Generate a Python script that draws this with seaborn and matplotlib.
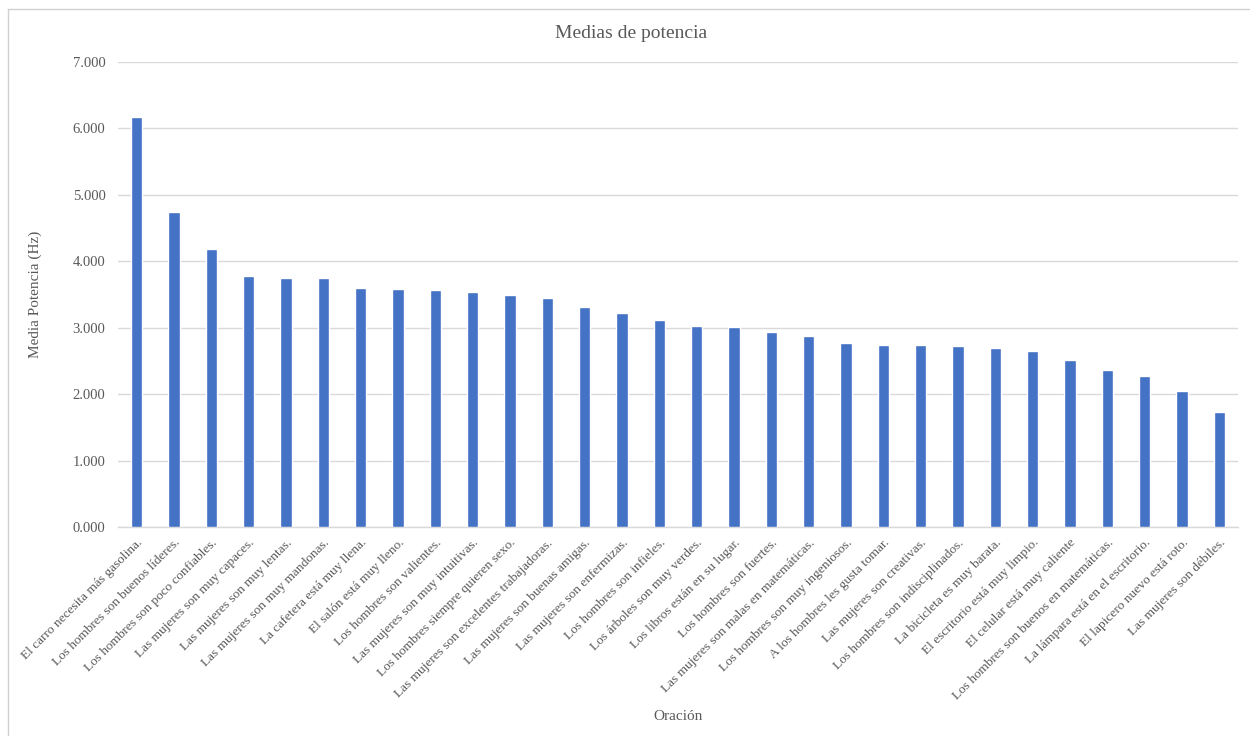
import matplotlib
matplotlib.use("Agg")
import matplotlib.pyplot as plt
import seaborn as sns
import pandas as pd
from matplotlib.lines import Line2D
from matplotlib.ticker import FuncFormatter

oraciones = [
    "El carro necesita más gasolina.",
    "Los hombres son buenos líderes.",
    "Los hombres son poco confiables.",
    "Las mujeres son muy capaces.",
    "Las mujeres son muy lentas.",
    "Las mujeres son muy mandonas.",
    "La cafetera está muy llena.",
    "El salón está muy lleno.",
    "Los hombres son valientes.",
    "Las mujeres son muy intuitivas.",
    "Los hombres siempre quieren sexo.",
    "Las mujeres son excelentes trabajadoras.",
    "Las mujeres son buenas amigas.",
    "Las mujeres son enfermizas.",
    "Los hombres son infieles.",
    "Los árboles son muy verdes.",
    "Los libros están en su lugar.",
    "Los hombres son fuertes.",
    "Las mujeres son malas en matemáticas.",
    "Los hombres son muy ingeniosos.",
    "A los hombres les gusta tomar.",
    "Las mujeres son creativas.",
    "Los hombres son indisciplinados.",
    "La bicicleta es muy barata.",
    "El escritorio está muy limpio.",
    "El celular está muy caliente",
    "Los hombres son buenos en matemáticas.",
    "La lámpara está en el escritorio.",
    "El lapicero nuevo está roto.",
    "Las mujeres son débiles.",
]

media_potencia = [
    6175, 4745, 4189, 3784, 3747, 3743, 3592, 3582, 3572, 3537,
    3496, 3441, 3310, 3214, 3122, 3030, 3010, 2935, 2874, 2769,
    2743, 2733, 2723, 2698, 2653, 2512, 2366, 2270, 2054, 1726,
]

y_ticks = [0, 1000, 2000, 3000, 4000, 5000, 6000, 7000]

df = pd.DataFrame({"Oración": oraciones, "Media": media_potencia})

sns.set_theme(style="white")
plt.rcParams["font.family"] = ["Liberation Serif", "DejaVu Serif"]

text_color = "#595959"
grid_color = "#d9d9d9"

fig = plt.figure(figsize=(12.5, 7.36), dpi=100)
ax = fig.add_axes([118 / 1250, 1 - 527 / 736, 1120 / 1250, 465 / 736])

sns.barplot(data=df, x="Oración", y="Media", color="#4472C4",
            width=0.3, saturation=1, ax=ax, zorder=3)

ax.set_ylim(0, 7000)
ax.set_xlim(-0.5, len(oraciones) - 0.5)
ax.set_yticks(y_ticks)
ax.yaxis.set_major_formatter(
    FuncFormatter(lambda v, _: f"{v / 1000:.3f}")
)
ax.grid(axis="y", color=grid_color, linewidth=1, zorder=0)
ax.set_axisbelow(True)
for s in ["top", "right", "left"]:
    ax.spines[s].set_visible(False)
ax.spines["bottom"].set_color(grid_color)
ax.spines["bottom"].set_linewidth(1)

ax.tick_params(axis="both", length=0, colors=text_color)
ax.tick_params(axis="y", pad=9, labelsize=10.5)
ax.set_xticks(range(len(oraciones)))
ax.set_xticklabels(oraciones, rotation=45, ha="right",
                   rotation_mode="anchor", fontsize=9.6, color=text_color)
ax.tick_params(axis="x", pad=7)

ax.set_xlabel("")
fig.text(678 / 1250, 1 - 717 / 736, "Oración", ha="center", va="center",
         fontsize=11, color=text_color)

ax.set_ylabel("Media Potencia (Hz)", fontsize=11, color=text_color, labelpad=22)

fig.text(631 / 1250, 1 - 33 / 736, "Medias de potencia", ha="center",
         va="center", fontsize=14, color=text_color)

# Chart frame
fig.add_artist(Line2D([7.5 / 1250, 7.5 / 1250], [0, 1 - 9 / 736],
                      transform=fig.transFigure, color="#d0d0d0", lw=1))
fig.add_artist(Line2D([7.5 / 1250, 1], [1 - 9 / 736, 1 - 9 / 736],
                      transform=fig.transFigure, color="#d0d0d0", lw=1))

fig.savefig("out.png", dpi=100, facecolor="white")
